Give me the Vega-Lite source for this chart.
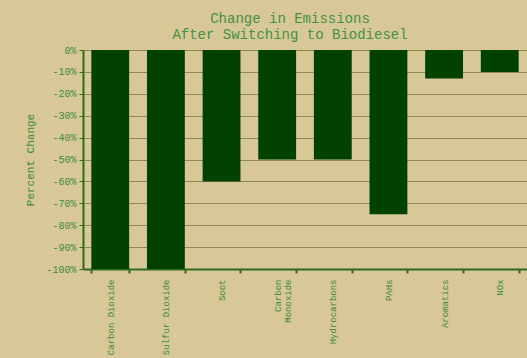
{
  "$schema": "https://vega.github.io/schema/vega-lite/v6.json",
  "width": 444,
  "height": 219,
  "autosize": {"type": "none"},
  "padding": {"left": 83, "top": 50, "right": 0, "bottom": 89},
  "background": "#d8c797",
  "title": {
    "text": ["Change in Emissions", "After Switching to Biodiesel"],
    "font": "Liberation Mono",
    "fontSize": 14,
    "fontWeight": "normal",
    "color": "#449244",
    "anchor": "middle",
    "dx": -15,
    "offset": 3,
    "lineHeight": 16
  },
  "data": {
    "values": [
      {"pollutant": "Carbon Dioxide", "change": -100},
      {"pollutant": "Sulfur Dioxide", "change": -100},
      {"pollutant": "Soot", "change": -60},
      {"pollutant": "Carbon Monoxide", "change": -50},
      {"pollutant": "Hydrocarbons", "change": -50},
      {"pollutant": "PAHs", "change": -75},
      {"pollutant": "Aromatics", "change": -13},
      {"pollutant": "NOx", "change": -10}
    ]
  },
  "config": {
    "view": {"stroke": null},
    "axis": {"labelFont": "Liberation Mono", "titleFont": "Liberation Mono"}
  },
  "mark": {"type": "bar", "color": "#014201"},
  "encoding": {
    "x": {
      "field": "pollutant",
      "type": "nominal",
      "sort": null,
      "scale": {"paddingInner": 0.32, "paddingOuter": 0.15},
      "axis": {
        "title": null,
        "labelAngle": -90,
        "labelAlign": "right",
        "labelBaseline": "middle",
        "labelFontSize": 9,
        "labelColor": "#3d8a3d",
        "labelPadding": 6,
        "labelExpr": "datum.value == 'Carbon Monoxide' ? ['Carbon', 'Monoxide'] : datum.value",
        "labelLineHeight": 10,
        "tickBand": "extent",
        "tickColor": "#2f6a1f",
        "tickSize": 4,
        "tickWidth": 2,
        "domainColor": "#2f6a1f",
        "domainWidth": 2,
        "grid": false
      }
    },
    "y": {
      "field": "change",
      "type": "quantitative",
      "scale": {"domain": [-100, 0], "nice": false},
      "axis": {
        "title": "Percent Change",
        "titleFontSize": 11,
        "titleFontWeight": "normal",
        "titleColor": "#3d8a3d",
        "titlePadding": 10,
        "values": [0, -10, -20, -30, -40, -50, -60, -70, -80, -90, -100],
        "labelExpr": "datum.value + '%'",
        "labelFontSize": 10,
        "labelColor": "#3d8a3d",
        "labelPadding": 3,
        "tickColor": "#2f6a1f",
        "tickSize": 4,
        "domainColor": "#2f6a1f",
        "domainWidth": 2,
        "grid": true,
        "gridColor": "#8c8a55",
        "gridWidth": 1.2,
        "gridOpacity": 1
      }
    }
  }
}
